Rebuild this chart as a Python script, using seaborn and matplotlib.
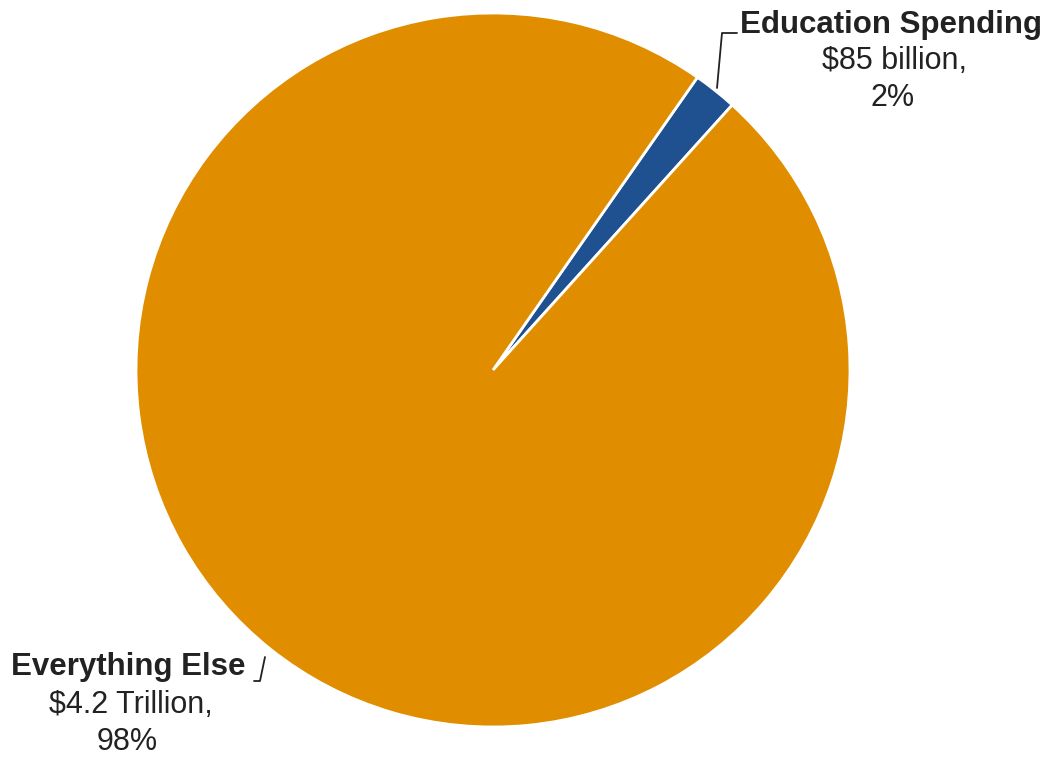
import matplotlib
matplotlib.use("Agg")
import matplotlib.pyplot as plt
import seaborn as sns

sns.set_theme(style="white")
plt.rcParams["font.family"] = ["Liberation Sans", "DejaVu Sans"]

categories = ["Education Spending", "Everything Else"]
values_billion = [85, 4200]
amount_labels = ["$85 billion,", "$4.2 Trillion,"]
pct_labels = ["2%", "98%"]
colors = ["#1F5190", "#E08E00"]

W, H = 1050, 758
fig = plt.figure(figsize=(W / 100, H / 100), dpi=100)
ax = fig.add_axes([0, 0, 1, 1])

share0 = values_billion[0] / sum(values_billion) * 360
ax.pie(values_billion, colors=colors, startangle=51.5 - share0 / 2,
       center=(493, H - 370), radius=357, frame=True,
       wedgeprops=dict(edgecolor="white", linewidth=2))
ax.set_xlim(0, W)
ax.set_ylim(0, H)
ax.set_axis_off()

txt = "#222222"
bold_size = 22.5
reg_size = 22

# Education label and leader
ax.plot([717, 722, 737], [H - 88, H - 33, H - 33], color=txt, lw=1.3)
ax.text(891, H - 25, categories[0], ha="center", va="center",
        fontsize=bold_size, fontweight="bold", color=txt)
ax.text(895, H - 61, amount_labels[0], ha="center", va="center",
        fontsize=reg_size, color=txt)
ax.text(893, H - 98, pct_labels[0], ha="center", va="center",
        fontsize=reg_size, color=txt)

# Everything else label and leader
ax.plot([254, 260, 265], [H - 681, H - 681, H - 657], color=txt, lw=1.3)
ax.text(128, H - 667, categories[1], ha="center", va="center",
        fontsize=bold_size, fontweight="bold", color=txt)
ax.text(131, H - 705, amount_labels[1], ha="center", va="center",
        fontsize=reg_size, color=txt)
ax.text(127, H - 742, pct_labels[1], ha="center", va="center",
        fontsize=reg_size, color=txt)

fig.savefig("out.png", dpi=100, facecolor="white")
